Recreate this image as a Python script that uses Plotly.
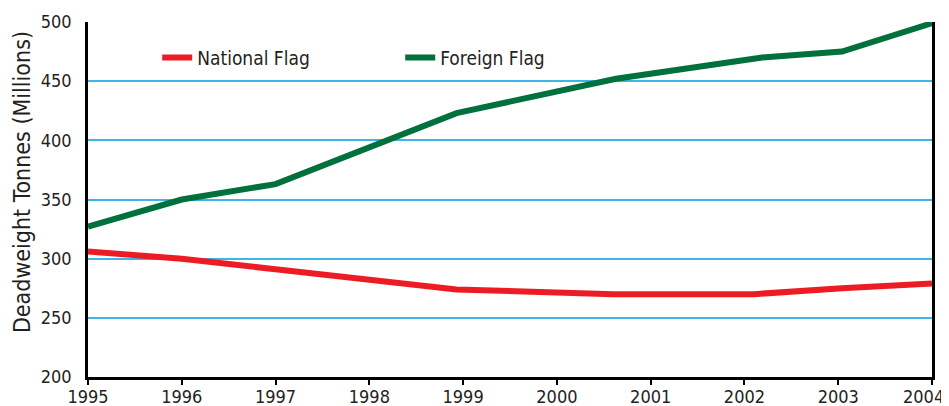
import plotly.graph_objects as go

# Data
years_national = [1995, 1996, 1997, 1998, 1998.93, 2000.6, 2002.1, 2003.04, 2004]
national_flag = [306, 300, 291, 282, 274, 270, 270, 275, 279]

years_foreign = [1995, 1996, 1997, 1998.93, 2000.63, 2002.19, 2003.04, 2004]
foreign_flag = [327, 350, 363, 423, 452, 470, 475, 499]

x_ticks = [1995, 1996, 1997, 1998, 1999, 2000, 2001, 2002, 2003, 2004]
y_ticks = [200, 250, 300, 350, 400, 450, 500]
y_title = "Deadweight Tonnes (Millions)"

FONT = "DejaVu Sans Condensed, Liberation Sans Narrow, sans-serif"
TXT = "#231F20"

fig = go.Figure()
fig.add_trace(go.Scatter(x=years_national, y=national_flag, mode="lines",
                         name="National Flag",
                         line=dict(color="#ED1C24", width=6)))
fig.add_trace(go.Scatter(x=years_foreign, y=foreign_flag, mode="lines",
                         name="Foreign Flag",
                         line=dict(color="#00703C", width=6)))

# last tick label is drawn as an annotation nudged left so it stays inside the page
tick_text = [str(t) for t in x_ticks[:-1]] + [""]
fig.add_annotation(x=x_ticks[-1], xref="x", y=0, yref="paper",
                   text=str(x_ticks[-1]), showarrow=False,
                   xanchor="center", yanchor="top", xshift=-9, yshift=-7,
                   font=dict(family=FONT, size=18, color=TXT))
# y-axis title
fig.add_annotation(x=0, xref="paper", y=0.549, yref="paper",
                   text=y_title, showarrow=False, textangle=-90,
                   xanchor="center", yanchor="middle", xshift=-66,
                   font=dict(family=FONT, size=23, color=TXT))

# page body has an 8px margin; size the figure so it fits the 949x406 window
fig.update_layout(
    width=941, height=398,
    margin=dict(l=80, r=17, t=14, b=29),
    paper_bgcolor="white", plot_bgcolor="white",
    font=dict(family=FONT, size=18, color=TXT),
    showlegend=True,
    legend=dict(orientation="h", x=0.082, y=0.953, xanchor="left", yanchor="top",
                bgcolor="rgba(0,0,0,0)", entrywidth=198, entrywidthmode="pixels",
                font=dict(family=FONT, size=19, color=TXT)),
    xaxis=dict(range=[1995, 2004], tickvals=x_ticks, ticktext=tick_text,
               showgrid=False, zeroline=False, automargin=False,
               showline=True, linecolor="black", linewidth=2.5,
               ticks="outside", ticklen=5, tickwidth=2, tickcolor="black",
               ticklabeloverflow="allow", ticklabelstandoff=-3,
               tickfont=dict(family=FONT, size=18, color=TXT)),
    yaxis=dict(range=[200, 500], tickvals=y_ticks, automargin=False,
               showgrid=True, gridcolor="#3DB5E6", gridwidth=1.5, zeroline=False,
               showline=True, linecolor="black", linewidth=2.5, mirror=True,
               ticks="", ticklabelstandoff=10, ticklabeloverflow="allow",
               tickfont=dict(family=FONT, size=18, color=TXT)),
)

fig.write_html("out.html")
